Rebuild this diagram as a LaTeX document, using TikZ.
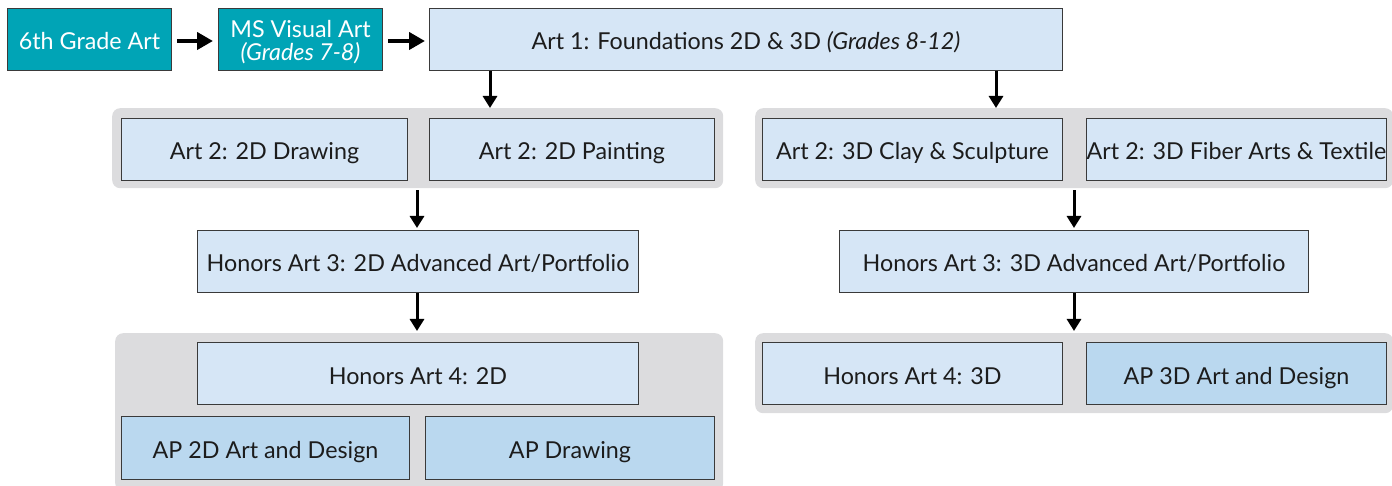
\documentclass[tikz,border=0pt]{standalone}
\usepackage{fontspec}
\setmainfont{Lato}
\usetikzlibrary{arrows.meta}
\definecolor{teal}{HTML}{00A4B6}
\definecolor{lblue}{HTML}{D6E6F6}
\definecolor{apblue}{HTML}{BAD8EF}
\definecolor{grp}{HTML}{DCDCDE}
\definecolor{bord}{HTML}{3A3A3A}
\definecolor{txt}{HTML}{1C1C1C}
\tikzset{
  box/.style={draw=bord, line width=1pt, fill=lblue, text=txt, anchor=north west,
    inner sep=0pt, minimum height=62pt, align=center, text height=21pt, text depth=0pt,
    font=\fontsize{23.3}{23}\selectfont},
  tealbox/.style={box, fill=teal, text=white},
  apbox/.style={box, fill=apblue},
  group/.style={fill=grp, rounded corners=8pt, anchor=north west, inner sep=0pt},
  arr/.style={line width=3pt, -{Triangle[width=14pt,length=12pt]}},
  harr/.style={line width=4pt, -{Triangle[width=17pt,length=16pt]}}
}
\begin{document}
\begin{tikzpicture}[x=1pt,y=-1pt]
\useasboundingbox (0,0) rectangle (1392,486);
% groups
\node[group, minimum width=611pt, minimum height=80pt] (g1) at (112,108) {};
\node[group, minimum width=638pt, minimum height=80pt] (g2) at (755,108) {};
\node[group, minimum width=608pt, minimum height=158pt] (g3) at (115,333) {};
\node[group, minimum width=638pt, minimum height=80pt] (g4) at (755,333) {};
% boxes
\node[tealbox, minimum width=164pt] (six) at (7,8) {6th Grade Art};
\node[tealbox, minimum width=164pt, text height=42pt, text depth=0pt] (ms) at (218,8) {MS Visual Art\\\textit{(Grades 7-8)}};
\node[box, minimum width=633pt] (art1) at (429,8) {Art 1: Foundations 2D \& 3D \textit{(Grades 8-12)}};
\node[box, minimum width=286pt] (draw2) at (121,118) {Art 2: 2D Drawing};
\node[box, minimum width=285pt] (paint2) at (429,118) {Art 2: 2D Painting};
\node[box, minimum width=300pt] (clay2) at (762,118) {Art 2: 3D Clay \& Sculpture};
\node[box, minimum width=300pt] (fiber2) at (1086,118) {Art 2: 3D Fiber Arts \& Textile};
\node[box, minimum width=441pt] (h3a) at (197,230) {Honors Art 3: 2D Advanced Art/Portfolio};
\node[box, minimum width=469pt] (h3b) at (839,230) {Honors Art 3: 3D Advanced Art/Portfolio};
\node[box, minimum width=441pt] (h4a) at (197,342) {Honors Art 4: 2D};
\node[apbox, minimum width=288pt, minimum height=63pt] (ap2d) at (121,416) {AP 2D Art and Design};
\node[apbox, minimum width=289pt, minimum height=63pt] (apdr) at (425,416) {AP Drawing};
\node[box, minimum width=300pt] (h4b) at (762,342) {Honors Art 4: 3D};
\node[apbox, minimum width=300pt] (ap3d) at (1086,342) {AP 3D Art and Design};
% arrows
\coordinate (xa) at (490,0);
\coordinate (xb) at (996,0);
\coordinate (xc) at (417,0);
\coordinate (xd) at (1074,0);
\coordinate (ya) at (0,41);
\draw[harr, shorten <=5pt, shorten >=5pt] (six.east |- ya) -- (ms.west |- ya);
\draw[harr, shorten <=5pt, shorten >=4pt] (ms.east |- ya) -- (art1.west |- ya);
\draw[arr] (art1.south -| xa) -- (g1.north -| xa);
\draw[arr] (art1.south -| xb) -- (g2.north -| xb);
\draw[arr, shorten <=2pt, shorten >=2pt] (g1.south -| xc) -- (h3a.north -| xc);
\draw[arr, shorten >=2pt] (h3a.south -| xc) -- (g3.north -| xc);
\draw[arr, shorten <=2pt, shorten >=2pt] (g2.south -| xd) -- (h3b.north -| xd);
\draw[arr, shorten >=2pt] (h3b.south -| xd) -- (g4.north -| xd);
\end{tikzpicture}
\end{document}
